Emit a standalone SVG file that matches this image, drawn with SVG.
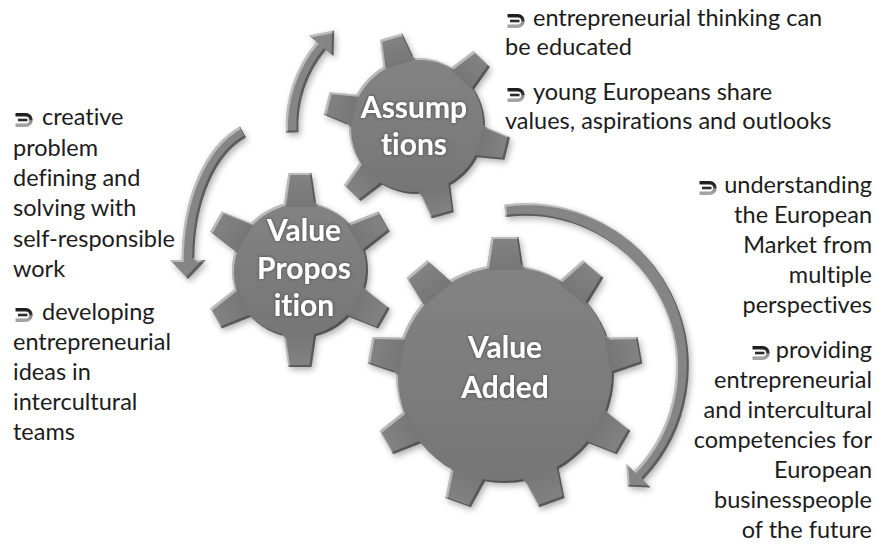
<svg xmlns="http://www.w3.org/2000/svg" xmlns:xlink="http://www.w3.org/1999/xlink" width="877" height="547" viewBox="0 0 877 547">
  <style>
    text { font-variant-ligatures: none; font-feature-settings: "liga" 0; }
    .txt { font-family: Lato, "Open Sans", "Liberation Sans", sans-serif; font-size: 23.5px; fill: #1c1c1c; }
    .end { text-anchor: end; }
    .lbl { font-family: Lato, "Open Sans", "Liberation Sans", sans-serif; font-weight: bold; font-size: 30px; fill: #ffffff; text-anchor: middle; }
    .gear { fill: url(#gearFill); }
    .shaft { fill: none; stroke: #858585; stroke-width: 12.5; }
    .head { fill: #858585; }
  </style>
  <defs>
    <linearGradient id="gearFill" x1="0" y1="0" x2="0" y2="1">
      <stop offset="0" stop-color="#838383"/>
      <stop offset="1" stop-color="#767676"/>
    </linearGradient>
    <linearGradient id="bulFill" x1="0" y1="0" x2="0" y2="1">
      <stop offset="0" stop-color="#1e1e1e"/>
      <stop offset="0.5" stop-color="#3a3a3a"/>
      <stop offset="0.56" stop-color="#888"/>
      <stop offset="1" stop-color="#a5a5a5"/>
    </linearGradient>
    <!-- raised bevel with a soft drop shadow -->
    <filter id="bevel" x="-15%" y="-15%" width="135%" height="135%" color-interpolation-filters="sRGB">
      <feGaussianBlur in="SourceAlpha" stdDeviation="3" result="sb"/>
      <feOffset in="sb" dx="2" dy="3" result="drop"/>
      <feFlood flood-color="#000" flood-opacity="0.3"/>
      <feComposite in2="drop" operator="in" result="dropc"/>
      <feOffset in="SourceAlpha" dx="1.6" dy="1.6" result="o1"/>
      <feComposite in="SourceAlpha" in2="o1" operator="out" result="hl"/>
      <feGaussianBlur in="hl" stdDeviation="0.7" result="hlb"/>
      <feFlood flood-color="#fff" flood-opacity="0.45"/>
      <feComposite in2="hlb" operator="in" result="hlc"/>
      <feOffset in="SourceAlpha" dx="-1.6" dy="-1.6" result="o2"/>
      <feComposite in="SourceAlpha" in2="o2" operator="out" result="sd"/>
      <feGaussianBlur in="sd" stdDeviation="0.7" result="sdb"/>
      <feFlood flood-color="#000" flood-opacity="0.3"/>
      <feComposite in2="sdb" operator="in" result="sdc"/>
      <feMerge>
        <feMergeNode in="dropc"/>
        <feMergeNode in="SourceGraphic"/>
        <feMergeNode in="hlc"/>
        <feMergeNode in="sdc"/>
      </feMerge>
    </filter>
    <!-- dark halo behind the white gear labels -->
    <filter id="halo" x="-20%" y="-30%" width="140%" height="160%">
      <feGaussianBlur in="SourceAlpha" stdDeviation="1.6" result="b"/>
      <feFlood flood-color="#3a3a3a" flood-opacity="0.9"/>
      <feComposite in2="b" operator="in" result="h"/>
      <feMerge>
        <feMergeNode in="h"/>
        <feMergeNode in="SourceGraphic"/>
      </feMerge>
    </filter>
    <!-- bullet icon -->
    <symbol id="bul" viewBox="0 0 18 14">
      <path d="M0.5,1.8 H10.8 A5.2,5.2 0 0 1 10.8,12.2 H0.5" fill="none" stroke="url(#bulFill)" stroke-width="3.4"/>
      <path d="M3,7 H12.5" fill="none" stroke="#2c2c2c" stroke-width="2.6"/>
    </symbol>
    <!-- teeth, pointing up from the gear centre -->
    <polygon id="toothL" points="-18.5,-104 -13.5,-137 13.5,-137 18.5,-104"/>
    <polygon id="toothA" points="-16,-64 -11.5,-93 11.5,-93 16,-64"/>
    <polygon id="toothP" points="-16.5,-63 -11.5,-97 11.5,-97 16.5,-63"/>
  </defs>

  <rect width="877" height="547" fill="#ffffff"/>

  <!-- circular arrows -->
  <g id="connectors" filter="url(#bevel)">
    <g id="arrow-assumptions">
      <path class="shaft" d="M292.2,132.5 A125,125 0 0 1 321.3,45.7"/>
      <polygon class="head" points="309,35.4 334.2,30.4 333.5,56"/>
    </g>
    <g id="arrow-proposition">
      <path class="shaft" d="M243,132 C210,150 188,200 188,260"/>
      <polygon class="head" points="170,260 206,260 188,279"/>
    </g>
    <g id="arrow-added">
      <path class="shaft" d="M505,210.9 A157,157 0 0 1 638.4,475.6"/>
      <polygon class="head" points="650.6,487.4 628,486.4 626.2,463.8"/>
    </g>
  </g>

  <!-- gear: Assumptions -->
  <g id="gear-assumptions">
    <g class="gear" filter="url(#bevel)">
      <circle cx="417" cy="126" r="68"/>
      <use xlink:href="#toothA" transform="translate(417 126) rotate(-16)"/>
      <use xlink:href="#toothA" transform="translate(417 126) rotate(44)"/>
      <use xlink:href="#toothA" transform="translate(417 126) rotate(104)"/>
      <use xlink:href="#toothA" transform="translate(417 126) rotate(164)"/>
      <use xlink:href="#toothA" transform="translate(417 126) rotate(224)"/>
      <use xlink:href="#toothA" transform="translate(417 126) rotate(284)"/>
    </g>
    <g filter="url(#halo)">
      <text class="lbl" x="414" y="118">Assump</text>
      <text class="lbl" x="414" y="155">tions</text>
    </g>
  </g>

  <!-- gear: Value Proposition -->
  <g id="gear-proposition">
    <g class="gear" filter="url(#bevel)">
      <circle cx="300" cy="270" r="68"/>
      <use xlink:href="#toothP" transform="translate(300 270) rotate(0)"/>
      <use xlink:href="#toothP" transform="translate(300 270) rotate(60)"/>
      <use xlink:href="#toothP" transform="translate(300 270) rotate(120)"/>
      <use xlink:href="#toothP" transform="translate(300 270) rotate(180)"/>
      <use xlink:href="#toothP" transform="translate(300 270) rotate(240)"/>
      <use xlink:href="#toothP" transform="translate(300 270) rotate(300)"/>
    </g>
    <g filter="url(#halo)">
      <text class="lbl" x="304" y="241">Value</text>
      <text class="lbl" x="304" y="278.5">Propos</text>
      <text class="lbl" x="304" y="316">ition</text>
    </g>
  </g>

  <!-- gear: Value Added -->
  <g id="gear-added">
    <g class="gear" filter="url(#bevel)">
      <circle cx="505" cy="374" r="109"/>
      <use xlink:href="#toothL" transform="translate(505 374) rotate(0)"/>
      <use xlink:href="#toothL" transform="translate(505 374) rotate(40)"/>
      <use xlink:href="#toothL" transform="translate(505 374) rotate(80)"/>
      <use xlink:href="#toothL" transform="translate(505 374) rotate(120)"/>
      <use xlink:href="#toothL" transform="translate(505 374) rotate(160)"/>
      <use xlink:href="#toothL" transform="translate(505 374) rotate(200)"/>
      <use xlink:href="#toothL" transform="translate(505 374) rotate(240)"/>
      <use xlink:href="#toothL" transform="translate(505 374) rotate(280)"/>
      <use xlink:href="#toothL" transform="translate(505 374) rotate(320)"/>
    </g>
    <g filter="url(#halo)">
      <text class="lbl" x="505" y="358">Value</text>
      <text class="lbl" x="505" y="398">Added</text>
    </g>
  </g>

  <!-- notes: left -->
  <g id="notes-proposition">
    <use xlink:href="#bul" x="15" y="113" width="18" height="14"/>
    <text class="txt" x="42" y="125">creative</text>
    <text class="txt" x="13" y="155.5">problem</text>
    <text class="txt" x="13" y="186">defining and</text>
    <text class="txt" x="13" y="216">solving with</text>
    <text class="txt" x="13" y="246.5">self-responsible</text>
    <text class="txt" x="13" y="277">work</text>
    <use xlink:href="#bul" x="15" y="308" width="18" height="14"/>
    <text class="txt" x="42" y="320">developing</text>
    <text class="txt" x="13" y="350">entrepreneurial</text>
    <text class="txt" x="13" y="380">ideas in</text>
    <text class="txt" x="13" y="410">intercultural</text>
    <text class="txt" x="13" y="440">teams</text>
  </g>

  <!-- notes: top right -->
  <g id="notes-assumptions">
    <use xlink:href="#bul" x="507" y="14" width="18" height="14"/>
    <text class="txt" x="533" y="26">entrepreneurial thinking can</text>
    <text class="txt" x="505" y="55">be educated</text>
    <use xlink:href="#bul" x="507" y="88" width="18" height="14"/>
    <text class="txt" x="533" y="100">young Europeans share</text>
    <text class="txt" x="505" y="129">values, aspirations and outlooks</text>
  </g>

  <!-- notes: right -->
  <g id="notes-added">
    <use xlink:href="#bul" x="699" y="181" width="18" height="14"/>
    <text class="txt end" x="872" y="193">understanding</text>
    <text class="txt end" x="872" y="223">the European</text>
    <text class="txt end" x="872" y="253">Market from</text>
    <text class="txt end" x="872" y="283">multiple</text>
    <text class="txt end" x="872" y="313">perspectives</text>
    <use xlink:href="#bul" x="752" y="346" width="18" height="14"/>
    <text class="txt end" x="872" y="358">providing</text>
    <text class="txt end" x="872" y="388">entrepreneurial</text>
    <text class="txt end" x="872" y="418">and intercultural</text>
    <text class="txt end" x="872" y="448">competencies for</text>
    <text class="txt end" x="872" y="478">European</text>
    <text class="txt end" x="872" y="508">businesspeople</text>
    <text class="txt end" x="872" y="538">of the future</text>
  </g>
</svg>
